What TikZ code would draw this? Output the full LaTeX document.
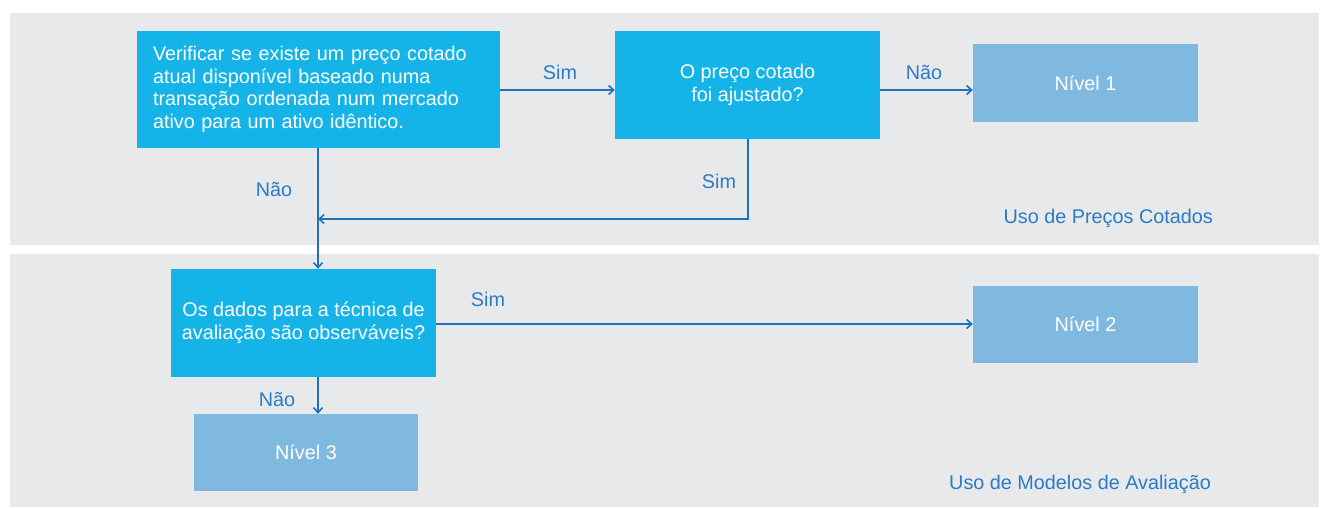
\documentclass[tikz,border=0pt]{standalone}
\usepackage{fontspec}
\setmainfont{Liberation Sans}
\usetikzlibrary{arrows.meta}
\definecolor{panelgray}{HTML}{E8E9EB}
\definecolor{boxcyan}{HTML}{14B4E8}
\definecolor{lvlblue}{HTML}{80B9E0}
\definecolor{lineblue}{HTML}{2170BC}
\definecolor{txtblue}{HTML}{2B7BC6}
\tikzset{
  panel/.style={fill=panelgray, draw=none},
  qbox/.style={fill=boxcyan, draw=none, text=white, font=\fontsize{19.8}{22.5}\selectfont, inner sep=0pt},
  lvlbox/.style={fill=lvlblue, draw=none, text=white, font=\fontsize{19.8}{22.5}\selectfont, inner sep=0pt},
  lbl/.style={text=txtblue, font=\fontsize{19.8}{22}\selectfont, inner sep=0pt},
  conn/.style={draw=lineblue, line width=1.6pt, -{Straight Barb[length=5pt,width=9pt,line width=1.6pt]}},
  plain/.style={draw=lineblue, line width=1.6pt}
}
\begin{document}
\begin{tikzpicture}[x=1pt,y=-1pt]
\useasboundingbox (0,0) rectangle (1320,507);
\fill[white] (0,0) rectangle (1320,507);
\fill[panel] (10,13) rectangle (1319,245);
\fill[panel] (10,254) rectangle (1319,507);

\node[qbox, minimum width=363pt, minimum height=117pt, text width=331pt, align=left] (b1) at (318.5,89.5) {Verificar se existe um preço cotado\\atual disponível baseado numa\\transação ordenada num mercado\\ativo para um ativo idêntico.};
\node[qbox, minimum width=265pt, minimum height=108pt, align=center] (b2) at (747.5,85) {O preço cotado\\foi ajustado?};
\node[lvlbox, minimum width=225pt, minimum height=78pt] (n1) at (1085.5,83) {Nível 1};
\node[qbox, minimum width=265pt, minimum height=108pt, align=center] (b3) at (303.5,323) {Os dados para a técnica de\\avaliação são observáveis?};
\node[lvlbox, minimum width=225pt, minimum height=77pt] (n2) at (1085.5,324.5) {Nível 2};
\node[lvlbox, minimum width=224pt, minimum height=77pt] (n3) at (306,452.5) {Nível 3};

\coordinate (c1) at (748,219);
\coordinate (c2) at (318,219);

\draw[conn] (b1.east |- 0,90) -- (b2.west |- 0,90);
\draw[conn] (b2.east |- 0,90) -- (n1.west |- 0,90);
\draw[plain] (b2.south -| c1) -- (c1) -- (c2);
\draw[conn] (c1) -- (c2);
\draw[conn] (b1.south -| c2) -- (b3.north -| c2);
\draw[conn] (b3.east |- 0,324) -- (n2.west |- 0,324);
\draw[conn] (b3.south -| c2) -- (n3.north -| c2);

\node[lbl] (l1) at (560,72) {Sim};
\node[lbl] (l2) at (924,72) {Não};
\node[lbl] (l3) at (719,181) {Sim};
\node[lbl] (l4) at (274,189) {Não};
\node[lbl] (l5) at (488,299) {Sim};
\node[lbl] (l6) at (277,399) {Não};
\node[lbl, anchor=east] (t1) at (1213,218) {Uso de Preços Cotados};
\node[lbl, anchor=east] (t2) at (1211,484) {Uso de Modelos de Avaliação};
\end{tikzpicture}
\end{document}
